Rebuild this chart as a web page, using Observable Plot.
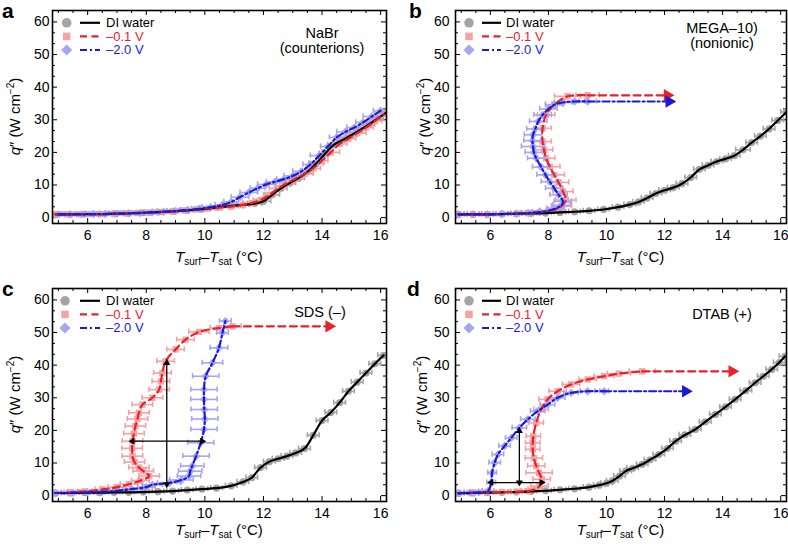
<!DOCTYPE html>
<html><head><meta charset="utf-8">
<script src="https://cdn.jsdelivr.net/npm/d3@7"></script>
<script src="https://cdn.jsdelivr.net/npm/@observablehq/plot@0.6"></script>
<style>
body{margin:0;background:#fff;font-family:"Liberation Sans",Arial,sans-serif;}
#wrap{position:relative;width:788px;height:546px;background:#fff;}
.panel{position:absolute;width:394px;height:273px;}
</style></head><body><div id="wrap"></div>
<script>
// ---------- tick labels & text ----------
const X_MAJOR = [6, 8, 10, 12, 14, 16];
const Y_MAJOR = [0, 10, 20, 30, 40, 50, 60];
const LEGEND_LABELS = ["DI water", "\u20130.1 V", "\u20132.0 V"];
const NOTE_A = ["NaBr", "(counterions)"];
const NOTE_B = ["MEGA\u201310)", "(nonionic)"];
const NOTE_C = ["SDS (\u2013)"];
const NOTE_D = ["DTAB (+)"];

// ---------- panel a ----------
const a_di_x = [4.9,5.4,5.9,6.4,6.9,7.4,7.9,8.4,8.9,9.4,9.9,10.4,10.9,11.3,11.7,12.0,12.3,12.6,12.9,13.2,13.5,13.8,14.1,14.4,14.7,15.0,15.3,15.6,15.9,16.2];
const a_di_y = [1.0,1.0,1.1,1.1,1.2,1.3,1.5,1.7,1.9,2.2,2.6,3.1,3.6,3.9,4.3,5.0,7.0,9.0,10.6,12.1,14.0,16.6,19.6,22.3,23.8,25.3,26.9,28.6,30.4,32.3];
const a_di_e = [0.2,0.2,0.2,0.2,0.2,0.2,0.2,0.2,0.2,0.2,0.2,0.2,0.2,0.2,0.25,0.25,0.25,0.2,0.2,0.2,0.2,0.25,0.2,0.2,0.2,0.2,0.2,0.2,0.2,0.2];
const a_red_x = [4.9,5.3,5.7,6.1,6.5,6.9,7.3,7.7,8.1,8.5,8.9,9.3,9.7,10.1,10.5,10.9,11.3,11.6,11.9,12.2,12.5,12.8,13.1,13.4,13.7,14.0,14.3,14.6,14.9,15.2,15.5,15.8,16.1];
const a_red_y = [1.0,1.0,1.0,1.1,1.1,1.2,1.3,1.4,1.5,1.7,1.9,2.2,2.5,2.8,3.1,3.4,3.9,4.5,5.4,7.0,9.0,10.6,12.0,13.4,15.1,17.5,20.0,22.6,24.2,25.9,27.6,29.6,31.8];
const a_red_e = [0.25,0.25,0.3,0.25,0.25,0.3,0.25,0.25,0.3,0.25,0.2,0.3,0.25,0.25,0.3,0.25,0.25,0.3,0.25,0.2,0.3,0.25,0.25,0.3,0.25,0.2,0.3,0.25,0.25,0.3,0.25,0.25,0.3];
const a_blue_x = [5.0,5.4,5.8,6.2,6.6,7.0,7.4,7.8,8.2,8.6,9.0,9.4,9.8,10.2,10.6,10.9,11.2,11.5,11.8,12.1,12.4,12.7,13.0,13.3,13.6,13.9,14.2,14.5,14.8,15.1,15.4,15.7,16.0];
const a_blue_y = [1.0,1.0,1.0,1.1,1.1,1.2,1.3,1.4,1.6,1.8,2.0,2.3,2.7,3.2,3.9,4.8,6.3,7.7,9.0,10.2,11.0,11.8,12.8,14.2,16.3,19.0,21.8,24.6,26.3,27.6,29.2,31.0,32.8];
const a_blue_e = [0.25,0.3,0.25,0.25,0.3,0.25,0.25,0.3,0.25,0.25,0.3,0.25,0.25,0.3,0.25,0.25,0.3,0.3,0.25,0.3,0.3,0.25,0.3,0.3,0.25,0.3,0.25,0.25,0.3,0.25,0.25,0.3,0.25];

// ---------- panel b ----------
const b_di_x = [4.9,5.4,5.9,6.4,6.9,7.4,7.9,8.4,8.9,9.4,9.9,10.4,10.8,11.1,11.4,11.7,12.0,12.3,12.6,12.9,13.2,13.5,13.8,14.1,14.4,14.7,15.0,15.3,15.6,15.9,16.2];
const b_di_y = [1.0,1.0,1.0,1.1,1.2,1.3,1.4,1.6,1.8,2.1,2.5,3.2,4.0,4.8,6.0,7.4,8.4,9.2,10.4,12.3,14.8,16.0,17.2,18.0,19.0,20.8,23.0,25.0,27.2,29.8,32.4];
const b_di_e = [0.2,0.2,0.2,0.2,0.2,0.2,0.2,0.2,0.2,0.2,0.2,0.2,0.2,0.2,0.2,0.2,0.2,0.2,0.2,0.2,0.2,0.2,0.2,0.2,0.2,0.25,0.2,0.2,0.2,0.2,0.2];
const b_red_x = [4.9,5.4,5.9,6.4,6.9,7.3,7.7,8.0,8.25,8.45,8.6,8.5,8.35,8.2,8.05,7.92,7.85,7.8,7.8,7.92,8.2,8.66,9.35];
const b_red_y = [1.0,1.0,1.0,1.1,1.2,1.4,1.7,2.1,2.6,3.5,5.4,8.0,10.8,13.1,15.6,18.2,20.8,23.3,27.4,31.5,34.6,37.2,37.5];
const b_red_e = [0.2,0.2,0.2,0.2,0.2,0.25,0.25,0.3,0.3,0.35,0.35,0.35,0.35,0.35,0.35,0.3,0.3,0.3,0.3,0.3,0.3,0.45,0.4];
const b_blue_x = [4.9,5.4,5.9,6.4,6.9,7.3,7.7,8.0,8.25,8.45,8.5,8.35,8.2,8.05,7.9,7.75,7.58,7.5,7.47,7.45,7.47,7.55,7.65,7.8,8.0,8.2,8.5,8.9,9.35];
const b_blue_y = [1.0,1.0,1.0,1.1,1.2,1.4,1.7,2.1,2.8,3.8,5.0,7.0,9.0,11.0,13.1,15.5,18.2,20.0,21.8,23.6,25.4,27.2,29.5,31.5,33.3,34.6,35.3,35.6,35.6];
const b_blue_e = [0.2,0.2,0.2,0.2,0.2,0.25,0.25,0.3,0.3,0.3,0.3,0.3,0.3,0.3,0.3,0.3,0.3,0.3,0.4,0.3,0.3,0.3,0.3,0.3,0.3,0.3,0.3,0.35,0.3];
const b_red_tip = [12.2, 37.5];
const b_blue_tip = [12.26, 35.6];

// ---------- panel c ----------
const c_di_x = [4.9,5.4,5.9,6.4,6.9,7.4,7.9,8.4,8.9,9.4,9.9,10.4,10.9,11.3,11.6,11.9,12.2,12.5,12.8,13.1,13.4,13.7,14.0,14.3,14.6,14.9,15.2,15.5,15.8,16.1];
const c_di_y = [0.8,0.8,0.9,0.9,1.0,1.0,1.1,1.2,1.4,1.7,2.0,2.3,3.0,4.2,5.5,8.6,10.4,11.3,12.1,13.1,14.4,18.5,23.0,25.5,28.5,32.0,34.8,37.6,40.4,43.0];
const c_di_e = [0.2,0.2,0.2,0.2,0.2,0.2,0.2,0.2,0.2,0.2,0.2,0.2,0.2,0.2,0.2,0.2,0.2,0.2,0.2,0.2,0.2,0.2,0.2,0.2,0.2,0.2,0.2,0.2,0.2,0.2];
const c_red_x = [4.9,5.4,5.9,6.5,7.0,7.41,7.8,8.1,7.9,7.75,7.6,7.53,7.52,7.53,7.58,7.63,7.7,7.75,7.87,8.21,8.44,8.5,8.55,8.66,9.0,9.34,9.8,10.48,10.94];
const c_red_y = [0.8,1.0,1.3,1.9,2.6,3.5,4.6,6.0,7.5,8.6,10.3,12.1,14.5,16.7,19.0,21.3,23.5,25.4,27.9,30.0,32.5,35.0,37.6,41.2,44.8,47.8,50.2,51.4,51.9];
const c_red_e = [0.2,0.2,0.25,0.25,0.3,0.3,0.3,0.35,0.35,0.35,0.35,0.35,0.35,0.35,0.35,0.35,0.35,0.35,0.35,0.35,0.35,0.3,0.3,0.3,0.3,0.3,0.35,0.3,0.3];
const c_blue_x = [4.9,5.5,6.0,6.5,7.0,7.5,8.0,8.21,8.78,9.2,9.46,9.5,9.57,9.7,9.86,9.97,10.0,9.98,9.97,9.97,10.03,10.26,10.48,10.6,10.7];
const c_blue_y = [0.8,0.9,1.0,1.2,1.5,2.0,2.6,3.3,3.9,4.8,6.0,7.5,9.1,12.1,16.2,20.3,23.5,26.4,29.5,32.5,36.6,40.7,45.3,49.9,53.5];
const c_blue_e = [0.2,0.2,0.25,0.25,0.3,0.3,0.3,0.35,0.4,0.4,0.4,0.4,0.4,0.45,0.45,0.45,0.45,0.45,0.45,0.45,0.45,0.35,0.3,0.2,0.2];
const c_red_tip = [14.34, 51.9];
const c_arrows_x1 = [8.7, 7.53];
const c_arrows_y1 = [3.5, 16.7];
const c_arrows_x2 = [8.7, 9.91];
const c_arrows_y2 = [40.7, 16.7];

// ---------- panel d ----------
const d_di_x = [4.9,5.4,5.9,6.4,6.9,7.4,7.9,8.4,8.9,9.4,9.75,10.0,10.2,10.45,10.66,10.9,11.23,11.5,11.8,12.1,12.38,12.7,13.06,13.4,13.75,14.1,14.43,14.8,15.12,15.4,15.69,15.95,16.15];
const d_di_y = [0.7,0.8,0.9,1.0,1.1,1.3,1.5,1.8,2.1,2.6,3.2,3.8,4.5,6.0,7.5,8.4,9.6,11.0,12.6,14.5,16.7,18.6,20.3,22.6,24.9,27.2,29.5,32.2,34.6,36.6,38.7,40.8,42.7];
const d_di_e = [0.2,0.2,0.2,0.2,0.2,0.2,0.2,0.2,0.2,0.2,0.2,0.2,0.2,0.2,0.2,0.2,0.2,0.2,0.2,0.2,0.2,0.2,0.2,0.2,0.2,0.2,0.2,0.2,0.2,0.2,0.2,0.2,0.2];
const d_red_x = [4.9,5.4,5.9,6.4,6.9,7.29,7.55,7.69,7.77,7.68,7.58,7.5,7.46,7.46,7.48,7.58,7.75,7.97,8.32,8.78,9.35,9.92,10.43,11.23];
const d_red_y = [0.8,0.9,1.0,1.1,1.2,1.4,2.0,2.9,5.0,7.0,9.1,11.5,14.2,16.2,18.2,22.3,26.4,29.5,32.0,34.1,35.6,36.6,37.4,38.1];
const d_red_e = [0.2,0.2,0.2,0.2,0.2,0.25,0.25,0.3,0.3,0.45,0.3,0.3,0.25,0.25,0.25,0.25,0.25,0.3,0.3,0.3,0.3,0.35,0.4,0.45];
const d_blue_x = [4.9,5.3,5.6,5.92,6.03,6.06,6.15,6.26,6.49,6.72,7.0,7.29,7.63,7.97,8.32,8.78,9.35,9.92];
const d_blue_y = [0.8,0.9,1.0,1.4,4.0,7.0,10.1,12.6,15.2,17.7,20.8,23.4,25.9,27.9,30.0,31.5,32.0,32.0];
const d_blue_e = [0.2,0.2,0.2,0.2,0.15,0.15,0.2,0.2,0.2,0.2,0.25,0.25,0.25,0.25,0.25,0.25,0.25,0.15];
const d_red_tip = [14.43, 38.1];
const d_blue_tip = [12.83, 32.0];
const d_arrows_x1 = [7.0, 6.03];
const d_arrows_y1 = [4.0, 4.0];
const d_arrows_x2 = [7.0, 7.77];
const d_arrows_y2 = [19.8, 4.0];

// ---------- styles ----------
const GRAY_PT = "#a4a4a4", PINK_PT = "#f4a2a4", LAV_PT = "#a6a6f0";
const BLACK = "#000", RED = "#e6222a", BLUE = "#1a1ad4";
const STY = [
  {pt: GRAY_PT, line: BLACK, dash: null, sym: "circle", r: 3.6, lsym: d3.symbolCircle, lsize: 72},
  {pt: PINK_PT, line: RED, dash: "7,4.5", sym: "square", r: 3.6, lsym: d3.symbolSquare, lsize: 56},
  {pt: LAV_PT, line: BLUE, dash: "7,3,2,3", sym: "diamond2", r: 3.8, lsym: d3.symbolDiamond2, lsize: 80}
];

function zip(xs, ys, es) { return xs.map((x, i) => ({x, y: ys[i], e: es ? es[i] : 0})); }

function headRot(a) {
  if (a.x1 === a.x2) return a.y2 > a.y1 ? [180, 0] : [0, 180];
  return a.x2 > a.x1 ? [-90, 90] : [90, -90];
}

function panel(cfg) {
  const W = 394, H = 273;
  const {ml, mr, mt, mb} = cfg;
  const pw = W - ml - mr, ph = H - mt - mb;
  const marks = [];
  const xMinor = d3.range(5, 16.01, 0.5).filter(v => !X_MAJOR.includes(v));
  const yMinor = d3.range(0, 63, 10 / 3).filter(v => Math.abs(v / 10 - Math.round(v / 10)) > 0.01);
  marks.push(Plot.tickX(X_MAJOR, {x: d => d, insetTop: ph - 5, stroke: BLACK}));
  marks.push(Plot.tickX(X_MAJOR, {x: d => d, insetBottom: ph - 5, stroke: BLACK}));
  marks.push(Plot.tickX(xMinor, {x: d => d, insetTop: ph - 3, stroke: BLACK}));
  marks.push(Plot.tickX(xMinor, {x: d => d, insetBottom: ph - 3, stroke: BLACK}));
  marks.push(Plot.tickY(Y_MAJOR, {y: d => d, insetRight: pw - 5, stroke: BLACK}));
  marks.push(Plot.tickY(Y_MAJOR, {y: d => d, insetLeft: pw - 5, stroke: BLACK}));
  marks.push(Plot.tickY(yMinor, {y: d => d, insetRight: pw - 3, stroke: BLACK}));
  marks.push(Plot.tickY(yMinor, {y: d => d, insetLeft: pw - 3, stroke: BLACK}));

  cfg.series.forEach((s, i) => {
    const st = STY[i];
    marks.push(Plot.ruleY(s, {y: "y", x1: d => d.x - d.e, x2: d => d.x + d.e, stroke: st.pt, strokeWidth: 1.6, clip: true}));
    marks.push(Plot.ruleX(s, {x: d => d.x - d.e, y1: d => d.y - 0.8, y2: d => d.y + 0.8, stroke: st.pt, strokeWidth: 1.6, clip: true}));
    marks.push(Plot.ruleX(s, {x: d => d.x + d.e, y1: d => d.y - 0.8, y2: d => d.y + 0.8, stroke: st.pt, strokeWidth: 1.6, clip: true}));
    marks.push(Plot.dot(s, {x: "x", y: "y", symbol: st.sym, r: st.r, fill: st.pt, clip: true}));
  });
  cfg.series.forEach((s, i) => {
    const st = STY[i];
    marks.push(Plot.line(s, {x: "x", y: "y", stroke: st.line, strokeWidth: 2.2, strokeDasharray: st.dash, curve: "catmull-rom", clip: true}));
  });
  (cfg.tips || []).forEach(t => {
    const st = STY[t.k];
    const s = cfg.series[t.k];
    const last = s[s.length - 1];
    const seg = [{x: last.x, y: last.y}, {x: t.tip[0], y: t.tip[1]}];
    marks.push(Plot.line(seg, {x: "x", y: "y", stroke: st.line, strokeWidth: 2.2, strokeDasharray: st.dash}));
    marks.push(Plot.dot([seg[1]], {x: "x", y: "y", symbol: "triangle", rotate: 90, r: 4.6, fill: st.line, dx: -3}));
  });
  if (cfg.arrows) {
    const arr = cfg.arrows;
    marks.push(Plot.link(arr, {x1: "x1", y1: "y1", x2: "x2", y2: "y2", stroke: BLACK, strokeWidth: 1.3}));
    const heads = [];
    arr.forEach(a => { const [r1, r2] = headRot(a); heads.push({x: a.x1, y: a.y1, r: r1}, {x: a.x2, y: a.y2, r: r2}); });
    marks.push(Plot.dot(heads, {x: "x", y: "y", rotate: "r", symbol: "triangle", r: 2.6, fill: BLACK}));
  }
  marks.push(Plot.frame({stroke: BLACK, strokeWidth: 1.6}));
  marks.push(Plot.axisX(X_MAJOR, {tickSize: 0, tickPadding: 7, fontSize: 14, label: null}));
  marks.push(Plot.axisY(Y_MAJOR, {tickSize: 0, tickPadding: cfg.yPad, fontSize: 14, label: null}));

  const svg = Plot.plot({
    width: W, height: H,
    marginLeft: ml, marginRight: mr, marginTop: mt, marginBottom: mb,
    x: {domain: [4.8, 16.2]},
    y: {domain: [-1.8, 63.5]},
    style: {fontFamily: "'Liberation Sans', Arial, sans-serif", fontSize: "14px", background: "transparent", overflow: "visible", color: "#000"},
    marks
  });
  const g = d3.select(svg);
  g.append("text").attr("x", cfg.letterPos[0]).attr("y", cfg.letterPos[1]).attr("text-anchor", "start")
    .attr("font-size", 21).attr("font-weight", "bold").attr("fill", BLACK).text(cfg.letter);
  const xt = g.append("text").attr("x", ml + pw / 2).attr("y", 262).attr("text-anchor", "middle")
    .attr("font-size", 15).attr("fill", BLACK);
  xt.append("tspan").attr("font-style", "italic").text("T");
  xt.append("tspan").attr("font-size", 10).attr("dy", 3).text("surf");
  xt.append("tspan").attr("dy", -3).text("\u2013");
  xt.append("tspan").attr("font-style", "italic").text("T");
  xt.append("tspan").attr("font-size", 10).attr("dy", 3).text("sat");
  xt.append("tspan").attr("dy", -3).text(" (\u00B0C)");
  const yt = g.append("text").attr("transform", `translate(${cfg.ylabX},${mt + ph / 2}) rotate(-90)`)
    .attr("text-anchor", "middle").attr("font-size", 15).attr("fill", BLACK);
  yt.append("tspan").attr("font-style", "italic").text("q");
  yt.append("tspan").text("\u2033 (W cm");
  yt.append("tspan").attr("font-size", 10).attr("dy", -6).text("\u22122");
  yt.append("tspan").attr("dy", 6).text(")");
  const L = cfg.legend;
  LEGEND_LABELS.forEach((lab, i) => {
    const st = STY[i];
    const y = L.rows[i];
    g.append("path").attr("d", d3.symbol().type(st.lsym).size(st.lsize)()).attr("transform", `translate(${L.sx},${y})`).attr("fill", st.pt);
    g.append("line").attr("x1", L.lx1).attr("x2", L.lx2).attr("y1", y).attr("y2", y)
      .attr("stroke", st.line).attr("stroke-width", 2.2).attr("stroke-dasharray", st.dash);
    g.append("text").attr("x", L.tx).attr("y", y + 4.4).attr("text-anchor", "start")
      .attr("font-size", 13).attr("fill", st.line).text(lab);
  });
  cfg.note.forEach((t, i) => {
    g.append("text").attr("x", cfg.noteX).attr("y", cfg.noteY[i]).attr("text-anchor", "middle")
      .attr("font-size", 14.5).attr("fill", BLACK).text(t);
  });
  const div = document.createElement("div");
  div.className = "panel";
  div.style.left = cfg.left + "px";
  div.style.top = cfg.top + "px";
  div.appendChild(svg);
  document.getElementById("wrap").appendChild(div);
}

function arrows(x1, y1, x2, y2) { return x1.map((v, i) => ({x1: v, y1: y1[i], x2: x2[i], y2: y2[i]})); }

panel({
  left: 0, top: 0, ml: 52, mr: 8, mt: 10, mb: 50, yPad: 3,
  letter: "a", letterPos: [2, 18], ylabX: 20,
  legend: {sx: 66.7, lx1: 80, lx2: 100, tx: 106, rows: [22.8, 36.4, 50]},
  note: NOTE_A, noteX: 322, noteY: [38, 53],
  series: [zip(a_di_x, a_di_y, a_di_e), zip(a_red_x, a_red_y, a_red_e), zip(a_blue_x, a_blue_y, a_blue_e)]
});
panel({
  left: 394, top: 0, ml: 61, mr: 2, mt: 10, mb: 50, yPad: 6,
  letter: "b", letterPos: [15, 18], ylabX: 36,
  legend: {sx: 75, lx1: 88, lx2: 107, tx: 112, rows: [22.8, 36.4, 50]},
  note: NOTE_B, noteX: 328, noteY: [33, 47.5],
  series: [zip(b_di_x, b_di_y, b_di_e), zip(b_red_x, b_red_y, b_red_e), zip(b_blue_x, b_blue_y, b_blue_e)],
  tips: [{k: 1, tip: b_red_tip}, {k: 2, tip: b_blue_tip}]
});
panel({
  left: 0, top: 273, ml: 52, mr: 8, mt: 15, mb: 45, yPad: 3,
  letter: "c", letterPos: [2, 23], ylabX: 20,
  legend: {sx: 65, lx1: 80, lx2: 100, tx: 106, rows: [27.8, 41.4, 55]},
  note: NOTE_C, noteX: 320, noteY: [43.5],
  series: [zip(c_di_x, c_di_y, c_di_e), zip(c_red_x, c_red_y, c_red_e), zip(c_blue_x, c_blue_y, c_blue_e)],
  tips: [{k: 1, tip: c_red_tip}],
  arrows: arrows(c_arrows_x1, c_arrows_y1, c_arrows_x2, c_arrows_y2)
});
panel({
  left: 394, top: 273, ml: 61, mr: 2, mt: 15, mb: 45, yPad: 6,
  letter: "d", letterPos: [13, 23], ylabX: 33,
  legend: {sx: 75, lx1: 88, lx2: 107, tx: 112, rows: [27.8, 41.4, 55]},
  note: NOTE_D, noteX: 328, noteY: [46],
  series: [zip(d_di_x, d_di_y, d_di_e), zip(d_red_x, d_red_y, d_red_e), zip(d_blue_x, d_blue_y, d_blue_e)],
  tips: [{k: 1, tip: d_red_tip}, {k: 2, tip: d_blue_tip}],
  arrows: arrows(d_arrows_x1, d_arrows_y1, d_arrows_x2, d_arrows_y2)
});
</script></body></html>
